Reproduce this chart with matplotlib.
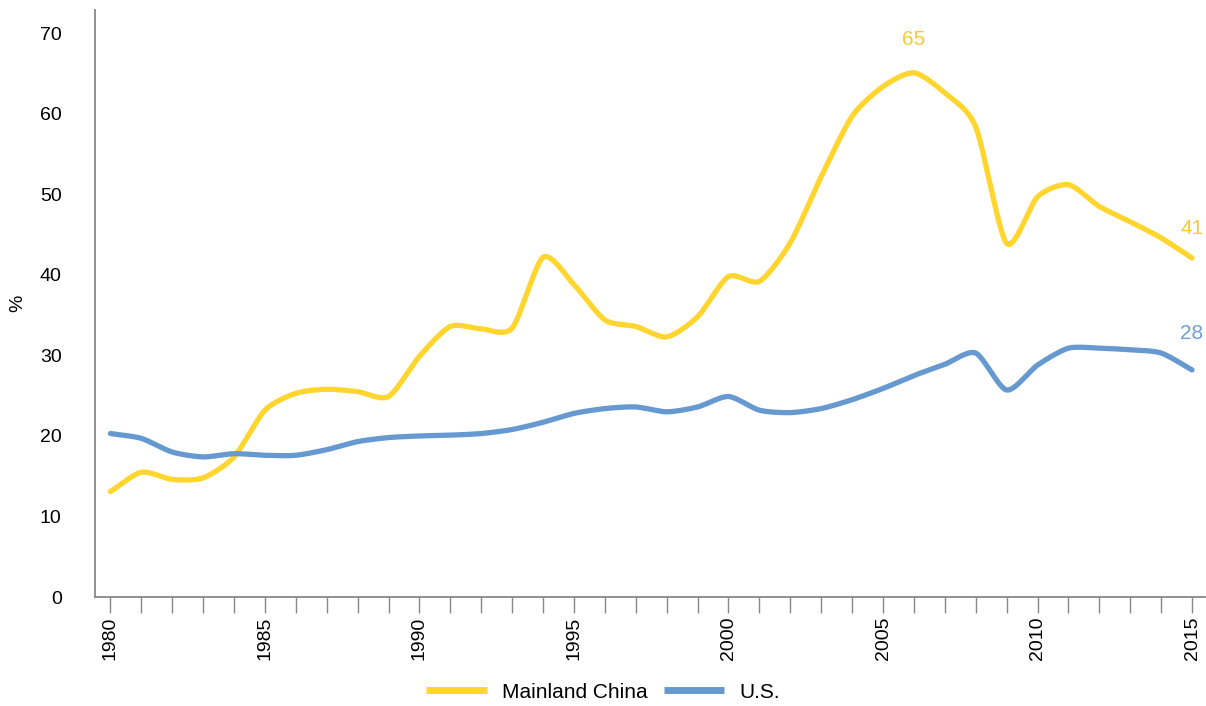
import matplotlib
matplotlib.use("Agg")
import matplotlib.pyplot as plt
import numpy as np

plt.rcParams["font.family"] = ["Liberation Sans", "DejaVu Sans"]

# yearly values (%)
years = list(range(1980, 2016))
china = [13.1, 15.5, 14.6, 14.8, 17.4, 23.2, 25.3, 25.8, 25.5, 24.9,
         29.9, 33.6, 33.3, 33.4, 42.2, 38.8, 34.4, 33.6, 32.3, 34.8,
         39.8, 39.2, 44.0, 52.2, 59.7, 63.4, 65.1, 62.6, 58.4, 43.9,
         49.7, 51.2, 48.5, 46.6, 44.6, 42.1]
us = [20.3, 19.7, 18.0, 17.4, 17.8, 17.6, 17.6, 18.3, 19.3, 19.8,
      20.0, 20.1, 20.3, 20.8, 21.7, 22.8, 23.4, 23.6, 23.0, 23.6,
      24.9, 23.2, 22.9, 23.4, 24.5, 25.9, 27.5, 28.9, 30.3, 25.7,
      28.8, 30.9, 30.9, 30.7, 30.3, 28.2]
series_names = ["Mainland China", "U.S."]
ytick_vals = [0, 10, 20, 30, 40, 50, 60, 70]
xtick_labels = ["1980", "1985", "1990", "1995", "2000", "2005", "2010", "2015"]
callouts = [("65", 2006, 69.2, 0), ("41", 2015, 45.8, 0), ("28", 2015, 32.7, 1)]

YELLOW = "#FFD52E"
BLUE = "#6699D0"
TEXT_COLORS = ["#F7C935", "#739ED4"]


def smooth(x, y, n=12, k=0.75):
    # cardinal curve through the yearly points, like Excel's smoothed line
    x = np.asarray(x, float)
    y = np.asarray(y, float)
    px = np.concatenate([[2 * x[0] - x[1]], x, [2 * x[-1] - x[-2]]])
    py = np.concatenate([[2 * y[0] - y[1]], y, [2 * y[-1] - y[-2]]])
    t = np.linspace(0, 1, n, endpoint=False)
    h00 = 2 * t ** 3 - 3 * t ** 2 + 1
    h10 = t ** 3 - 2 * t ** 2 + t
    h01 = -2 * t ** 3 + 3 * t ** 2
    h11 = t ** 3 - t ** 2
    outx, outy = [], []
    for i in range(1, len(px) - 2):
        for p, out in ((px, outx), (py, outy)):
            m1 = k * 0.5 * (p[i + 1] - p[i - 1])
            m2 = k * 0.5 * (p[i + 2] - p[i])
            out.extend(h00 * p[i] + h10 * m1 + h01 * p[i + 1] + h11 * m2)
    outx.append(x[-1])
    outy.append(y[-1])
    return outx, outy


fig = plt.figure(figsize=(12.06, 7.06), dpi=100)
ax = fig.add_axes([95 / 1206, 1 - 597 / 706, 1110 / 1206, 587 / 706])

sx, sy = smooth(years, china)
ax.plot(sx, sy, color=YELLOW, lw=3.8, solid_capstyle="round", label=series_names[0])
sx, sy = smooth(years, us)
ax.plot(sx, sy, color=BLUE, lw=3.8, solid_capstyle="round", label=series_names[1])

for txt, xv, yv, ci in callouts:
    ax.text(xv, yv, txt, color=TEXT_COLORS[ci], fontsize=15, ha="center", va="center")

ax.set_xlim(1979.5, 2015.42)
ax.set_ylim(0, 72.9)

ax.set_yticks(ytick_vals)
ax.set_yticklabels([str(v) for v in ytick_vals], fontsize=14)
ax.tick_params(axis="y", length=0, pad=24)

ax.set_xticks(years, minor=True)
ax.set_xticks([int(v) for v in xtick_labels])
ax.set_xticklabels(xtick_labels, rotation=90, fontsize=14)
ax.tick_params(axis="x", which="both", direction="out", length=11.5, width=1.0,
               color="#888888", pad=2.5)

ax.set_ylabel("%", fontsize=14)
ax.yaxis.set_label_coords(-0.062, 0.5)

for s in ["top", "right"]:
    ax.spines[s].set_visible(False)
for s in ["left", "bottom"]:
    ax.spines[s].set_color("#888888")
    ax.spines[s].set_linewidth(1.3)

leg = fig.legend(loc="center", bbox_to_anchor=(0.5, 1 - 692 / 706), ncol=2,
                 frameon=False, fontsize=15, handlelength=2.9, handletextpad=0.72,
                 columnspacing=0.8)
for h in leg.get_lines():
    h.set_linewidth(5)
    h.set_solid_capstyle("butt")

fig.savefig("out.png", dpi=100)
